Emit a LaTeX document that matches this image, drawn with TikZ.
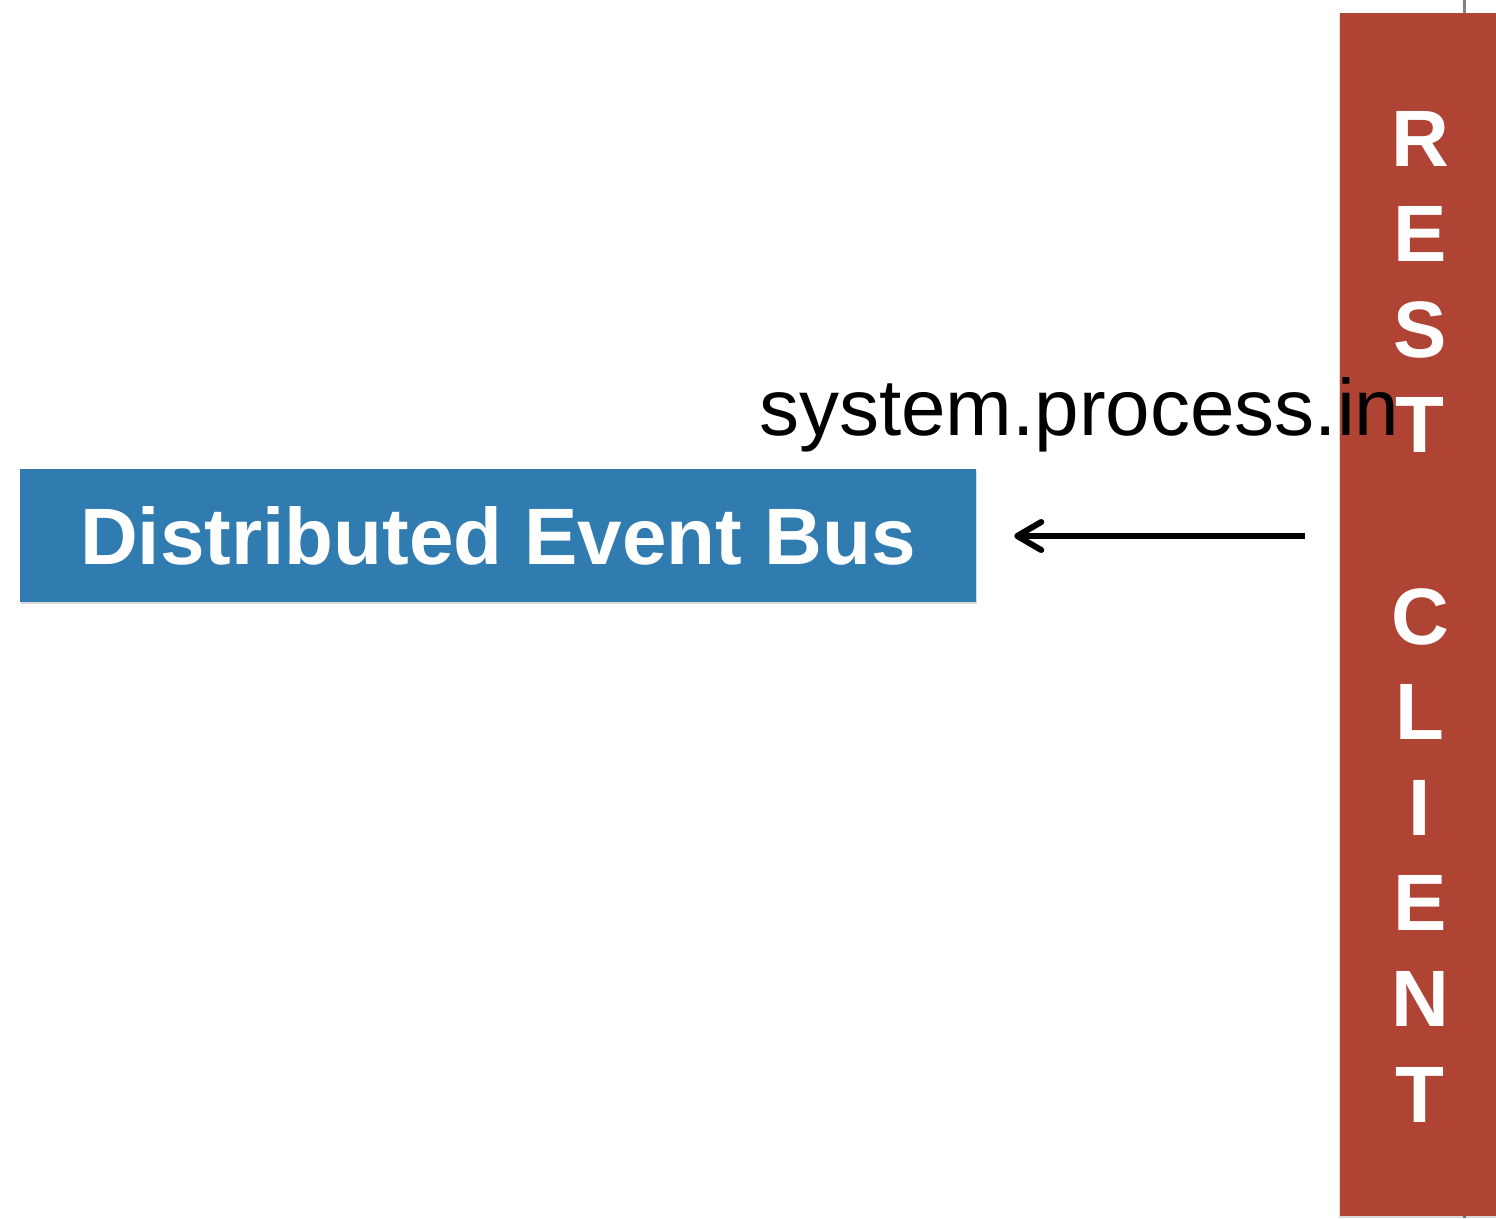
\documentclass[tikz,border=0pt]{standalone}
\usepackage{fontspec}
\setmainfont{Liberation Sans}
\usetikzlibrary{arrows.meta,shadows}
\definecolor{busblue}{RGB}{48,124,176}
\definecolor{clientred}{RGB}{176,68,52}
\definecolor{rulegray}{RGB}{130,130,130}
\tikzset{
  busbox/.style={rectangle, fill=busblue, inner sep=0pt, text=white,
    font=\fontsize{80}{80}\selectfont\bfseries,
    drop shadow={shadow xshift=0.5pt, shadow yshift=-2pt, opacity=0.15, fill=black}},
  clientbox/.style={rectangle, fill=clientred, inner sep=0pt,
    drop shadow={shadow xshift=-1pt, shadow yshift=-2pt, opacity=0.15, fill=black}},
  letter/.style={text=white, inner sep=0pt, anchor=base,
    font=\fontsize{80}{80}\selectfont\bfseries},
  msglabel/.style={inner sep=0pt, anchor=base west, font=\fontsize{80}{80}\selectfont},
  msgarrow/.style={line width=6pt, -{Straight Barb[length=24pt,width=28pt,round]}}
}
\begin{document}
\begin{tikzpicture}[x=1pt,y=-1pt]
\useasboundingbox (0,0) rectangle (1496,1218);
% gray rule behind the client box
\coordinate (rtop) at (1464,0);
\coordinate (rbot) at (1464,1218);
\draw[rulegray, line width=3pt] (rtop) -- (rbot);
% boxes
\node[busbox, minimum width=956pt, minimum height=133pt] (bus) at (498,535.5)
  {Distributed Event Bus};
\node[clientbox, minimum width=160pt, minimum height=1203pt] (client) at (1420,614.5) {};
% label
\node[msglabel] (lbl) at (759,435) {system.process.in};
% letters
\foreach \ch/\k in {R/0,E/1,S/2,T/3,C/5,L/6,I/7,E/8,N/9,T/10}{
  \node[letter] (l\k) at (1420,{166+\k*95.6}) {\ch};
}
% arrow
\coordinate (src) at (1305,536);
\draw[msgarrow] (src) -- ([xshift=38pt]bus.east |- src);
\end{tikzpicture}
\end{document}
